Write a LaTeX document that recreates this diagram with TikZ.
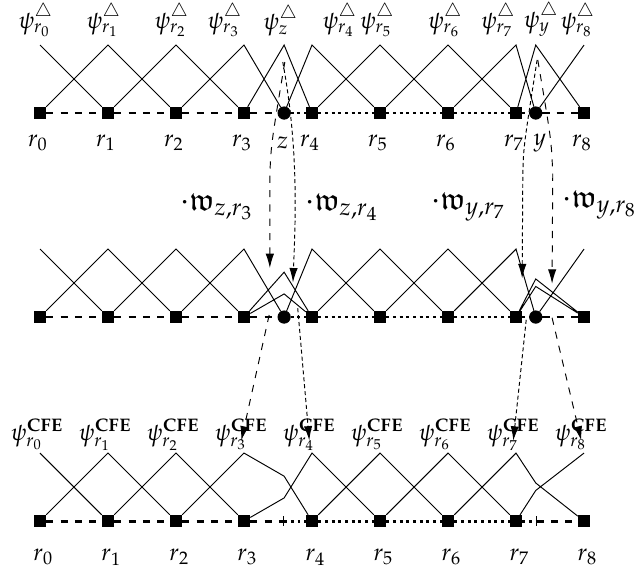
\documentclass[tikz,border=0pt]{standalone}
\usepackage{amssymb}
\usepackage{mathpazo}
\usetikzlibrary{arrows.meta}
\begin{document}
\begin{tikzpicture}
\tikzstyle{knot}=[draw,fill,shape=rectangle,inner sep=0pt,minimum size=0.17cm]
\tikzstyle{newknot}=[draw,fill,shape=circle,inner sep=0pt,minimum size=0.18cm]
\tikzstyle{elemA}=[line width=1.2pt,dashed]
\tikzstyle{elemB}=[line width=1.2pt,dash pattern=on 1.2pt off 1.6pt]
\tikzstyle{wA}=[thin,dashed,-{Latex[length=6pt,width=3.5pt]}]
\tikzstyle{wB}=[thin,dash pattern=on 1.7pt off 1.2pt,-{Latex[length=6pt,width=3.5pt]}]
\tikzstyle{weight}=[font=\fontsize{13.3}{16}\selectfont]
\useasboundingbox (-0.588,-6.735) rectangle (8.779,1.662);
% top row: refined mesh
\foreach \i in {0,...,8} {
  \node[knot] (t\i) at (\i,0) {};
  \coordinate (tp\i) at (\i,1);
  \node (tr\i) at (\i-0.03,-0.44) {$r_{\i}$};
}
\node[newknot] (tz) at (3.59,0) {};
\node[newknot] (ty) at (7.29,0) {};
\coordinate (tpz) at (3.59,1);
\coordinate (tpy) at (7.29,1);
\node (trz) at (3.57,-0.44) {$z$};
\node (try) at (7.35,-0.44) {$y$};
\node[anchor=south] (lt0) at (-0.06,1) {$\psi^{\triangle}_{r_0}$};
\node[anchor=south] (lt1) at (0.94,1) {$\psi^{\triangle}_{r_1}$};
\node[anchor=south] (lt2) at (1.94,1) {$\psi^{\triangle}_{r_2}$};
\node[anchor=south] (lt3) at (2.72,1) {$\psi^{\triangle}_{r_3}$};
\node[anchor=south] (ltz) at (3.54,1) {$\psi^{\triangle}_{z}$};
\node[anchor=south] (lt4) at (4.41,1) {$\psi^{\triangle}_{r_4}$};
\node[anchor=south] (lt5) at (4.96,1) {$\psi^{\triangle}_{r_5}$};
\node[anchor=south] (lt6) at (5.96,1) {$\psi^{\triangle}_{r_6}$};
\node[anchor=south] (lt7) at (6.74,1) {$\psi^{\triangle}_{r_7}$};
\node[anchor=south] (lty) at (7.37,1) {$\psi^{\triangle}_{y}$};
\node[anchor=south] (lt8) at (7.91,1) {$\psi^{\triangle}_{r_8}$};
\draw
(tp0) -- (t1) (t0) -- (tp1) -- (t2) (t1) -- (tp2) -- (t3) (t2) -- (tp3) -- (tz)
(t3) -- (tpz) -- (t4) (tz) -- (tp4) -- (t5) (t4) -- (tp5) -- (t6) (t5) -- (tp6) -- (t7)
(t6) -- (tp7) -- (ty) (t7) -- (tpy) -- (t8) (ty) -- (tp8)
;
\draw[elemA] (t0) -- (t1) -- (t2) -- (t3) -- (tz) (ty) -- (t8);
\draw[elemB] (tz) -- (t4) -- (t5) -- (t6) -- (t7) -- (ty);
% middle row: scaled psi_z and psi_y
\foreach \i in {0,...,8} {
  \node[knot] (m\i) at (\i,-3) {};
  \coordinate (mp\i) at (\i,-2);
}
\node[newknot] (mz) at (3.59,-3) {};
\node[newknot] (my) at (7.29,-3) {};
\coordinate (mz3) at (3.59,-2.34);
\coordinate (mz4) at (3.59,-2.66);
\coordinate (my7) at (7.29,-2.44);
\coordinate (my8) at (7.29,-2.55);
\draw
(mp0) -- (m1) (m0) -- (mp1) -- (m2) (m1) -- (mp2) -- (m3) (m2) -- (mp3) -- (mz)
(m3) -- (mz3) -- (m4) (m3) -- (mz4) -- (m4)
(mz) -- (mp4) -- (m5) (m4) -- (mp5) -- (m6) (m5) -- (mp6) -- (m7)
(m6) -- (mp7) -- (my) (m7) -- (my7) -- (m8) (m7) -- (my8) -- (m8) (my) -- (mp8)
;
\draw[elemA] (m0) -- (m1) -- (m2) -- (m3) -- (mz) (my) -- (m8);
\draw[elemB] (mz) -- (m4) -- (m5) -- (m6) -- (m7) -- (my);
\node[weight] (wz3) at (2.6,-1.38) {$\cdot\mathfrak{w}_{z,r_3}$};
\node[weight] (wz4) at (4.44,-1.38) {$\cdot\mathfrak{w}_{z,r_4}$};
\node[weight] (wy7) at (6.3,-1.38) {$\cdot\mathfrak{w}_{y,r_7}$};
\node[weight] (wy8) at (8.23,-1.35) {$\cdot\mathfrak{w}_{y,r_8}$};
% bottom row: coarse mesh
\foreach \i in {0,...,8} {
  \node[knot] (b\i) at (\i,-6) {};
  \coordinate (bp\i) at (\i,-5);
  \node (br\i) at (\i+0.05,-6.53) {$r_{\i}$};
  \node[anchor=south,inner sep=1pt] (lb\i) at (\i-0.04,-5) {$\psi^{\mathbf{CFE}}_{r_{\i}}$};
}
\coordinate (bz) at (3.59,-6);
\coordinate (by) at (7.29,-6);
\coordinate (bz3) at (3.59,-5.34);
\coordinate (bz4) at (3.59,-5.66);
\coordinate (by7) at (7.29,-5.44);
\coordinate (by8) at (7.29,-5.55);
\draw
(bp0) -- (b1) (b0) -- (bp1) -- (b2) (b1) -- (bp2) -- (b3)
(b2) -- (bp3) -- (bz3) -- (b4) (b3) -- (bz4) -- (bp4) -- (b5)
(b4) -- (bp5) -- (b6) (b5) -- (bp6) -- (b7)
(b6) -- (bp7) -- (by7) -- (b8) (b7) -- (by8) -- (bp8)
;
\draw[elemA] (b0) -- (b1) -- (b2) -- (b3);
\draw[elemA,-{Bar[width=4pt,line width=0.5pt]}] (b3) -- (bz);
\draw[elemB] (bz) -- (b4) -- (b5) -- (b6) -- (b7) -- (by);
\draw[elemA,{Bar[width=4pt,line width=0.5pt]}-] (by) -- (b8);
% weights
\coordinate (sz3) at (3.60,0.75);
\coordinate (ez3) at (3.38,-2.28);
\coordinate (sz4) at (3.57,0.75);
\coordinate (ez4) at (3.72,-2.49);
\coordinate (sy7) at (7.31,0.78);
\coordinate (ey7) at (7.09,-2.43);
\coordinate (sy8) at (7.32,0.78);
\coordinate (ey8) at (7.53,-2.51);
\draw[wA] (sz3) .. controls (3.40,-0.45) .. (3.38,-0.9) -- (ez3);
\draw[wB] (sz4) .. controls (3.80,-0.5) and (3.76,-1.5) .. (ez4);
\draw[wB] (sy7) .. controls (7.11,-0.5) .. (7.10,-0.9) -- (ey7);
\draw[wA] (sy8) .. controls (7.52,-0.4) .. (7.54,-0.9) -- (ey8);
\coordinate (cz3) at (3.37,-2.97);
\coordinate (cz4) at (3.79,-2.87);
\coordinate (cy7) at (7.15,-3.04);
\coordinate (cy8) at (7.53,-3.01);
\draw[wA] (cz3) -- (lb3.base);
\draw[wB] (cz4) -- (lb4.base);
\draw[wB] (cy7) -- (lb7.base);
\draw[wA] (cy8) -- (lb8.base);
\end{tikzpicture}
\end{document}
